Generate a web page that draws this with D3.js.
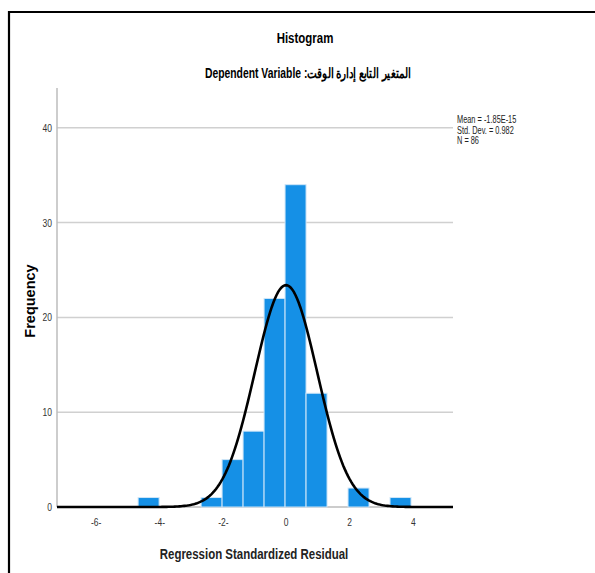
<!DOCTYPE html>
<html>
<head>
<meta charset="utf-8">
<script src="https://cdn.jsdelivr.net/npm/d3@7"></script>
<style>
  body { margin: 0; background: #fff; }
  text { font-family: "Liberation Sans", Arial, sans-serif; }
</style>
</head>
<body>
<div id="chart-area"></div>
<script>
// histogram data
var binEdges = [-4.65, -3.99, -3.33, -2.67, -2.01, -1.35, -0.69, -0.03, 0.63, 1.29, 1.95, 2.61, 3.27, 3.93];
var binCounts = [1, 0, 0, 1, 5, 8, 22, 34, 12, 0, 2, 0, 1];
var yTicks = [0, 10, 20, 30, 40];
var xTicks = [-6, -4, -2, 0, 2, 4];
var xTickLabels = ["-6-", "-4-", "-2-", "0", "2", "4"];
var stats = ["Mean = -1.85E-15", "Std. Dev. = 0.982", "N = 86"];
var mean = 0, sd = 0.982, n = 86;

var W = 595, H = 573;
var margin = {top: 88, right: 142, bottom: 66, left: 57};
var width = W - margin.left - margin.right;
var height = H - margin.top - margin.bottom;
var narrow = 0.74; // the original uses a condensed font

var svg = d3.select('#chart-area')
    .append('svg')
        .attr('width', W)
        .attr('height', H);

// draws a horizontally condensed text
function ntext(parent, x, y, anchor, size, weight, str) {
    return parent.append('text')
        .attr('transform', 'translate(' + x + ',' + y + ') scale(' + narrow + ',1)')
        .attr('text-anchor', anchor)
        .attr('font-size', size)
        .attr('font-weight', weight)
        .text(str);
}

// outer frame (top + left)
svg.append('path')
    .attr('d', 'M9,573 V12 H595')
    .attr('fill', 'none')
    .attr('stroke', 'black')
    .attr('stroke-width', 2.2);

var g = svg.append('g')
    .attr('transform', 'translate(' + margin.left + ',' + margin.top + ')');

var x = d3.scaleLinear()
    .domain([-7.2, 5.25])
    .range([0, width]);

var y = d3.scaleLinear()
    .domain([0, 44.2])
    .range([height, 0]);

// gridlines
g.selectAll('.grid').data(yTicks.filter((d) => d > 0))
    .enter().append('line')
    .attr('class', 'grid')
    .attr('x1', 0).attr('x2', width)
    .attr('y1', (d) => y(d)).attr('y2', (d) => y(d))
    .attr('stroke', '#d0d0d0')
    .attr('stroke-width', 1.5);

// y axis line
g.append('line')
    .attr('x1', 0).attr('x2', 0)
    .attr('y1', 0).attr('y2', height)
    .attr('stroke', '#bdbdbd')
    .attr('stroke-width', 1.5);

g.append('line')
    .attr('x1', 0).attr('x2', width)
    .attr('y1', height).attr('y2', height)
    .attr('stroke', '#999')
    .attr('stroke-width', 1);

var bins = binCounts.map((c, i) => ({x0: binEdges[i], x1: binEdges[i + 1], count: c}));

g.selectAll('rect').data(bins.filter((d) => d.count > 0))
    .enter().append('rect')
    .attr('x', (d) => x(d.x0))
    .attr('y', (d) => y(d.count))
    .attr('width', (d) => x(d.x1) - x(d.x0))
    .attr('height', (d) => height - y(d.count))
    .attr('fill', '#1590e6')
    .attr('stroke', '#cfe6f8')
    .attr('stroke-width', 1);

// normal curve
var binW = 0.67;
var curvePts = d3.range(-7.2, 5.26, 0.05).map((v) => {
    var z = (v - mean) / sd;
    return [v, n * binW * Math.exp(-0.5 * z * z) / (sd * Math.sqrt(2 * Math.PI))];
});
g.append('path')
    .datum(curvePts)
    .attr('fill', 'none')
    .attr('stroke', 'black')
    .attr('stroke-width', 2.6)
    .attr('d', d3.line().x((d) => x(d[0])).y((d) => y(d[1])));

// y tick labels
yTicks.forEach((d) => {
    ntext(g, -5, y(d) + 4, 'end', '11.5px', 'normal', d).attr('fill', '#333');
});

// x tick labels
xTicks.forEach((d, i) => {
    ntext(g, x(d) + (xTickLabels[i].length > 2 ? 1 : 0), height + 19, 'middle', '11.5px', 'normal', xTickLabels[i])
        .attr('fill', '#333');
});

// stats box
stats.forEach((d, i) => {
    ntext(svg, 457, 123 + i * 10.5, 'start', '10px', 'normal', d).attr('fill', '#222');
});

// titles
ntext(svg, 305, 43, 'middle', '15.5px', 'bold', 'Histogram');
ntext(svg, 308, 78, 'middle', '14px', 'bold', 'Dependent Variable :المتغير التابع إدارة الوقت');
ntext(svg, 254, 559, 'middle', '15.5px', 'bold', 'Regression Standardized Residual').attr('fill', '#222');

svg.append('text')
    .attr('transform', 'translate(35,301) rotate(-90)')
    .attr('text-anchor', 'middle')
    .attr('font-size', '14.5px')
    .attr('font-weight', 'bold')
    .text('Frequency');
</script>
</body>
</html>
